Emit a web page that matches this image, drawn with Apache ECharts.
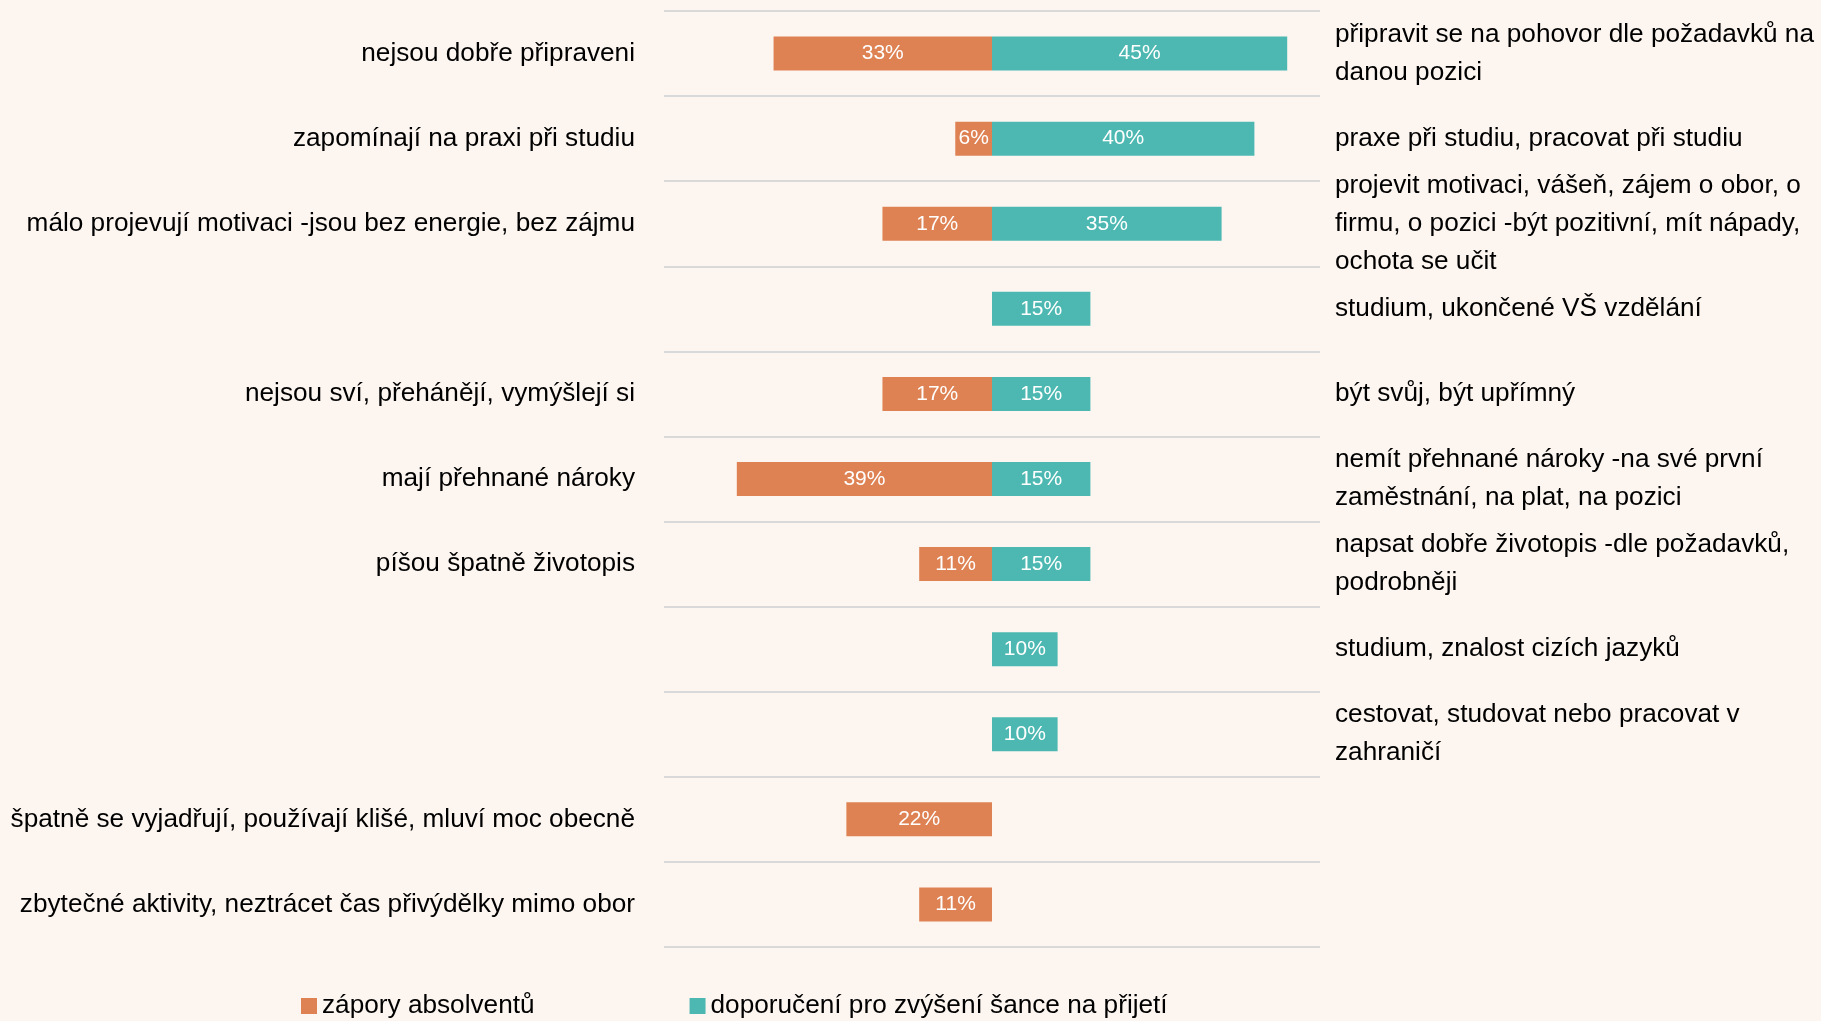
<!DOCTYPE html>
<html>
<head>
<meta charset="utf-8">
<script src="https://cdn.jsdelivr.net/npm/echarts@6/dist/echarts.min.js"></script>
<style>
  html, body { margin: 0; padding: 0; background: #fdf6f0; }
  #chart { width: 1821px; height: 1021px; }
</style>
</head>
<body>
<div id="chart"></div>
<script>
// problémy absolventů (vlevo) a doporučení (vpravo), shora dolů
const negLabels = [
  'nejsou dobře připraveni',
  'zapomínají na praxi při studiu',
  'málo projevují motivaci -jsou bez energie, bez zájmu',
  '',
  'nejsou sví, přehánějí, vymýšlejí si',
  'mají přehnané nároky',
  'píšou špatně životopis',
  '',
  '',
  'špatně se vyjadřují, používají klišé, mluví moc obecně',
  'zbytečné aktivity, neztrácet čas přivýdělky mimo obor'
]
const posLabels = [
  'připravit se na pohovor dle požadavků na\ndanou pozici',
  'praxe při studiu, pracovat při studiu',
  'projevit motivaci, vášeň, zájem o obor, o\nfirmu, o pozici -být pozitivní, mít nápady,\nochota se učit',
  'studium, ukončené VŠ vzdělání',
  'být svůj, být upřímný',
  'nemít přehnané nároky -na své první\nzaměstnání, na plat, na pozici',
  'napsat dobře životopis -dle požadavků,\npodrobněji',
  'studium, znalost cizích jazyků',
  'cestovat, studovat nebo pracovat v\nzahraničí',
  '',
  ''
]
// hodnoty v %
const zapory = [33.3, 5.6, 16.7, null, 16.7, 38.9, 11.1, null, null, 22.2, 11.1]
const doporuceni = [45, 40, 35, 15, 15, 15, 15, 10, 10, null, null]
const seriesNames = ['zápory absolventů', 'doporučení pro zvýšení šance na přijetí']

const chart = echarts.init(document.getElementById('chart'))

const barLabel = {
    show: true,
    position: 'inside',
    color: '#fff',
    fontSize: 21,
    formatter: p => Math.round(Math.abs(p.value)) + '%'
}

const option = {
    backgroundColor: '#fdf6f0',
    animation: false,
    textStyle: { fontFamily: '"Liberation Sans", Arial, sans-serif' },
    grid: { left: 664, right: 501, top: 11, bottom: 74 },
    legend: {
        data: seriesNames,
        left: 296,
        top: 988,
        icon: 'rect',
        itemWidth: 16,
        itemHeight: 16,
        itemGap: 155,
        textStyle: {
            fontSize: 26.2,
            color: '#000'
        }
    },
    xAxis: {
        type: 'value',
        min: -50,
        max: 50,
        show: false
    },
    yAxis: [{
        type: 'category',
        data: negLabels,
        inverse: true,
        axisLine: { show: false },
        axisTick: { show: false },
        axisLabel: { fontSize: 26.2, color: '#000', margin: 29 },
        splitLine: { show: true, interval: 0, lineStyle: { color: '#d9d9d9', width: 2 } }
    }, {
        type: 'category',
        data: posLabels,
        inverse: true,
        position: 'right',
        axisLine: { show: false },
        axisTick: { show: false },
        axisLabel: { fontSize: 26.2, color: '#000', margin: 15, align: 'left', lineHeight: 38 },
        splitLine: { show: false }
    }],
    series: [{
        name: seriesNames[0],
        type: 'bar',
        data: zapory.map(v => v == null ? null : -v),
        barWidth: 34,
        barGap: '-100%',
        itemStyle: { color: '#de8254' },
        label: barLabel
    }, {
        name: seriesNames[1],
        type: 'bar',
        data: doporuceni,
        barWidth: 34,
        barGap: '-100%',
        itemStyle: { color: '#4db8b2' },
        label: barLabel
    }]
}

chart.setOption(option)

window.addEventListener('resize', function () {
    chart.resize()
})
</script>
</body>
</html>
